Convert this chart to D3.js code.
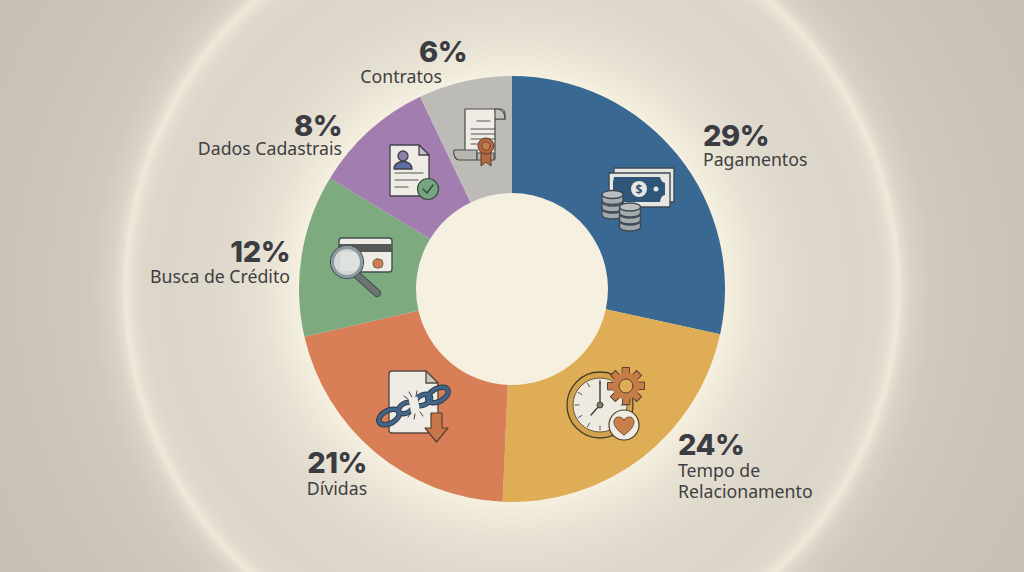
<!DOCTYPE html>
<html><head><meta charset="utf-8">
<script src="https://cdn.jsdelivr.net/npm/d3@7/dist/d3.min.js"></script>
<style>html,body{margin:0;padding:0;background:#dcd6ca}svg{display:block}</style></head>
<body><div id="chart"></div>
<script>
const categories = ["Pagamentos","Tempo de Relacionamento","Dívidas","Busca de Crédito","Dados Cadastrais","Contratos"];
const percentLabels = ["29%","24%","21%","12%","8%","6%"];
const drawnShares = [28.4,22.3,20.7,12.3,9.2,7.1];
const sliceColors = ["#396892","#dead55","#d87f58","#7eaa80","#a17db0","#bdbbb8"];
const labelLines = [["Pagamentos"],["Tempo de","Relacionamento"],["Dívidas"],["Busca de Crédito"],["Dados Cadastrais"],["Contratos"]];
const W=1024,H=572,cx=512,cy=289,R=213,r0=96;
const ink="#3b3d42", labelInk="#403f3f";

const svg=d3.select("#chart").append("svg").attr("width",W).attr("height",H).attr("viewBox",`0 0 ${W} ${H}`);
const defs=svg.append("defs");
const bg=defs.append("radialGradient").attr("id","bg").attr("gradientUnits","userSpaceOnUse")
  .attr("cx",cx).attr("cy",cy).attr("r",620);
[[0,"#f6f0e0"],[.345,"#f5efdf"],[.36,"#f1ebdb"],[.403,"#e7e1d3"],[.468,"#dfd9cd"],[.55,"#dcd6ca"],[.59,"#ddd7cb"],[.608,"#e1dccf"],[.619,"#ebe5d5"],[.624,"#eee8d8"],[.63,"#e4ded1"],[.645,"#d8d2c6"],[.68,"#d0cabe"],[.78,"#cbc4b9"],[1,"#c5beb3"]]
 .forEach(([o,c])=>bg.append("stop").attr("offset",o).attr("stop-color",c));
svg.append("rect").attr("width",W).attr("height",H).attr("fill","url(#bg)");

const pie=d3.pie().value(d=>d).sort(null);
const arc=d3.arc().innerRadius(r0).outerRadius(R);
const g=svg.append("g").attr("transform",`translate(${cx},${cy})`);
g.selectAll("path").data(pie(drawnShares)).join("path").attr("d",arc).attr("fill",(d,i)=>sliceColors[i]);

const labelPos=[
 {x:703,y:146,a:"start",ly:[166]},
 {x:678,y:455,a:"start",ly:[477,498]},
 {x:337,y:473,a:"middle",ly:[495]},
 {x:290,y:262,a:"end",ly:[283]},
 {x:342,y:136,a:"end",ly:[155]},
 {x:467,y:62,a:"end",lx:442,ly:[83]}
];
const labels=svg.append("g");
labelPos.forEach((p,i)=>{
  labels.append("text").attr("x",p.x).attr("y",p.y).attr("text-anchor",p.a)
   .attr("font-family","Inter, 'Noto Sans', sans-serif").attr("font-weight",800).attr("font-size",29).attr("letter-spacing",-0.5).attr("fill",ink).text(percentLabels[i]);
  labelLines[i].forEach((t,k)=>labels.append("text").attr("x",p.lx||p.x).attr("y",p.ly[k]).attr("text-anchor",p.a)
   .attr("font-family","'Noto Sans', sans-serif").attr("font-size",17.7).attr("fill",labelInk).text(t));
});

function icon(x,y){return svg.append("g").attr("transform",`translate(${x},${y})`).attr("stroke-linejoin","round").attr("stroke-linecap","round");}
function add(gr,tag,attrs){const e=gr.append(tag);Object.entries(attrs).forEach(([k,v])=>e.attr(k,v));return e;}

// money and coins
(function(){const s=icon(638,197);const st={stroke:"#3d4a55","stroke-width":1.4};
 add(s,"rect",{x:-24,y:-29,width:60,height:34,fill:"#e8e6e0",...st});
 add(s,"rect",{x:-29,y:-24,width:61,height:34,fill:"#e8e6e0",...st});
 add(s,"path",{d:"M-24,-20H22Q23,-15 27,-14V-2Q23,-2 22,5H-24Q-25,-1 -25,-2V-14Q-25,-15 -24,-20Z",fill:"#2f5578",stroke:"none"});
 add(s,"circle",{cx:1,cy:-8,r:8,fill:"#e8e6e0"});
 add(s,"text",{x:1,y:-3.5,"text-anchor":"middle","font-size":12,"font-weight":700,"font-family":"'Noto Sans'",fill:"#2f5578",stroke:"none"}).text("$");
 add(s,"circle",{cx:18,cy:-8,r:2.5,fill:"#e8e6e0"});
 [[-25.5,[12,5,-2.5]],[-8,[24,17,10]]].forEach(([px,cys])=>{
  cys.forEach(yy=>{
   add(s,"path",{d:`M${px-10.5},${yy}v6a10.5,4 0 0 0 21,0v-6z`,fill:"#a4a9ac",...st});
   add(s,"ellipse",{cx:px,cy:yy,rx:10.5,ry:4,fill:"#bcbfbf",...st});
  });
 });
})();

// clock, gear, heart
(function(){const s=icon(600,405);const st={stroke:"#4a3f2c","stroke-width":1.3};
 add(s,"circle",{cx:0,cy:0,r:33,fill:"#d2a24c",...st});
 add(s,"circle",{cx:0,cy:0,r:27,fill:"#eeeae0",stroke:"#4a3f2c","stroke-width":.8});
 d3.range(12).forEach(h=>{const a=h*Math.PI/6;add(s,"line",{x1:Math.sin(a)*21,y1:-Math.cos(a)*21,x2:Math.sin(a)*25,y2:-Math.cos(a)*25,stroke:"#555","stroke-width":1});});
 add(s,"line",{x1:0,y1:0,x2:0,y2:-23,stroke:"#444","stroke-width":1.5});
 add(s,"line",{x1:0,y1:0,x2:-9,y2:10,stroke:"#444","stroke-width":1.5});
 add(s,"circle",{cx:0,cy:0,r:3,fill:"#8a7a60",stroke:"#444","stroke-width":1});
 const gear=s.append("g").attr("transform","translate(26,-19)");
 d3.range(8).forEach(k=>add(gear,"rect",{x:-3.5,y:-18.5,width:7,height:9,fill:"#c57c48",stroke:"#5a4030","stroke-width":1,transform:`rotate(${k*45})`}));
 add(gear,"circle",{r:13.5,fill:"#c57c48",stroke:"#5a4030","stroke-width":0});
 add(gear,"circle",{r:7,fill:"#dead55",stroke:"#5a4030","stroke-width":1});
 const h=s.append("g").attr("transform","translate(24,20)");
 add(h,"circle",{r:15,fill:"#f0ece2",stroke:"#4a3f2c","stroke-width":1.2});
 add(h,"path",{d:"M0,10C-14,1 -11,-8 -5.5,-8C-2,-8 0,-6 0,-4C0,-6 2,-8 5.5,-8C11,-8 14,1 0,10Z",fill:"#c97f4c",stroke:"#5a4030","stroke-width":.8});
})();

// document, broken chain, arrow
(function(){const s=icon(415,405);const st={stroke:"#5a4a42","stroke-width":1.4};
 add(s,"path",{d:"M-26,-31Q-26,-34 -23,-34H11L23,-22V25Q23,28 20,28H-23Q-26,28 -26,25Z",fill:"#efece6",...st});
 add(s,"path",{d:"M11,-34V-22H23Z",fill:"#c9c6c0",...st});
 const chain=[[-26,12,11,6.5],[-9,3,8,5],[8,-5,8,5],[23,-10,11,6.5]];
 chain.forEach(([x,y,rx,ry])=>add(s,"ellipse",{cx:x,cy:y,rx,ry,fill:"none",stroke:"#2f3d4a","stroke-width":5.5,transform:`rotate(-28 ${x} ${y})`}));
 chain.forEach(([x,y,rx,ry])=>add(s,"ellipse",{cx:x,cy:y,rx,ry,fill:"none",stroke:"#44658a","stroke-width":3.5,transform:`rotate(-28 ${x} ${y})`}));
 add(s,"rect",{x:-5,y:-8,width:9,height:18,fill:"#efece6",stroke:"none",transform:"rotate(-10 0 1)"});
 [[-3,-8,-6,-13],[1,-9,2,-14],[-7,-6,-11,-9],[0,9,-1,14],[5,7,8,11],[-4,8,-7,12]].forEach(([a,b,c,d])=>add(s,"line",{x1:a,y1:b,x2:c,y2:d,stroke:"#444","stroke-width":1}));
 add(s,"path",{d:"M16,8H27V23H33L21.5,37L10,23H16Z",fill:"#c9754a",stroke:"#5a4030","stroke-width":1.2});
})();

// credit card, magnifier
(function(){const s=icon(362,258);const st={stroke:"#3f4f50","stroke-width":1.4};
 add(s,"rect",{x:-23,y:-20,width:53,height:34,rx:3,fill:"#eeece4",...st});
 add(s,"rect",{x:-23,y:-14,width:53,height:8,fill:"#555a58"});
 add(s,"rect",{x:11,y:1,width:10,height:9,rx:4,fill:"#cf7d4f",stroke:"#555","stroke-width":.8});
 add(s,"line",{x1:-5,y1:17,x2:15,y2:35,stroke:"#3f4f50","stroke-width":8});
 add(s,"line",{x1:-5,y1:17,x2:15,y2:35,stroke:"#6c7472","stroke-width":6});
 add(s,"circle",{cx:-15,cy:4,r:16.5,fill:"#dcdfdc","fill-opacity":.92,stroke:"#3f4f50","stroke-width":1.2});
 add(s,"circle",{cx:-15,cy:4,r:14.5,fill:"none",stroke:"#8b9aa0","stroke-width":3});
})();

// profile document
(function(){const s=icon(412,168);const st={stroke:"#423f4c","stroke-width":1.3};
 add(s,"path",{d:"M-22,-23H7L17,-13V28H-22Z",fill:"#efece6",...st});
 add(s,"path",{d:"M7,-23V-13H17Z",fill:"#c4bfca",...st});
 add(s,"circle",{cx:-9,cy:-12,r:5,fill:"#8a80a8",...st});
 add(s,"path",{d:"M-18,1C-18,-9 0,-9 0,1Z",fill:"#5e6da3",...st});
 [5,12,19].forEach((y,i)=>add(s,"line",{x1:-17,y1:y,x2:i==0?11:(i==1?6:-4),y2:y,stroke:"#555","stroke-width":1.1}));
 add(s,"circle",{cx:16,cy:21,r:10.5,fill:"#74a57f",stroke:"#3e4a42","stroke-width":1.2});
 add(s,"path",{d:"M11,21L15,25L21,17",fill:"none",stroke:"#2f4a38","stroke-width":1.4});
})();

// scroll with seal
(function(){const s=icon(482,138);const st={stroke:"#4a4a4a","stroke-width":1.2};
 add(s,"path",{d:"M-17,-29H18Q23,-29 23,-23V-19H13V21H-17Z",fill:"#efece6",...st});
 add(s,"path",{d:"M14,-29C20,-29 23,-25 23,-19H13V-24C13,-27 12,-29 14,-29Z",fill:"#c4c2bd",...st});
 add(s,"path",{d:"M-28,12H-5V22H-22C-27,22 -29,17 -28,12Z",fill:"#b8b6b1",...st});
 add(s,"path",{d:"M-5,15H12V22H-5Z",fill:"#b8b6b1",...st});
 add(s,"line",{x1:-5,y1:-17,x2:8,y2:-17,stroke:"#555","stroke-width":1});
 [-9,-4,1,6].forEach((y,i)=>add(s,"line",{x1:-11,y1:y,x2:i==3?1:13,y2:y,stroke:"#555","stroke-width":1}));
 add(s,"path",{d:"M-1,12V28L4,24L9,28V12Z",fill:"#b5673f",stroke:"#5a4030","stroke-width":1});
 add(s,"circle",{cx:4,cy:8,r:8,fill:"#b5673f",stroke:"#5a4030","stroke-width":1});
 add(s,"circle",{cx:4,cy:8,r:4.2,fill:"#c57c50",stroke:"#5a4030","stroke-width":.8});
})();
</script></body></html>
